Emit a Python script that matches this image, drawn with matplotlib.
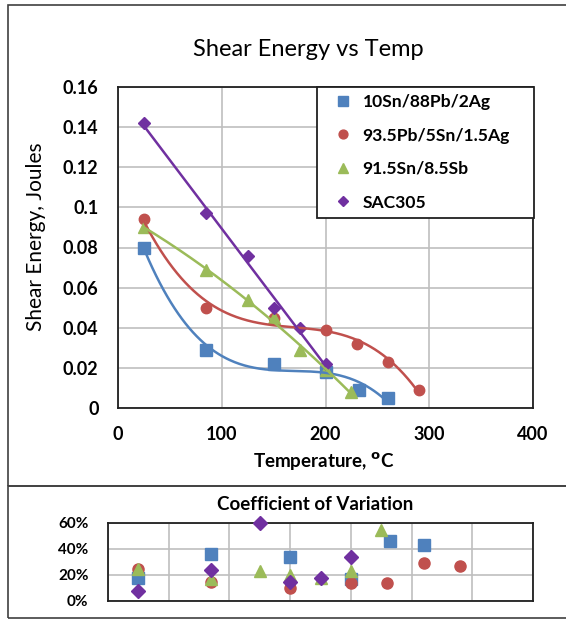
import numpy as np
import matplotlib
matplotlib.use("Agg")
import matplotlib.pyplot as plt
from matplotlib.patches import Rectangle
from matplotlib.ticker import PercentFormatter, MultipleLocator

plt.rcParams['font.family'] = ['Lato', 'DejaVu Sans']

# series names and colours
names = ['10Sn/88Pb/2Ag', '93.5Pb/5Sn/1.5Ag', '91.5Sn/8.5Sb', 'SAC305']
colors = ['#4F81BD', '#C0504D', '#9BBB59', '#7030A0']
markers = ['s', 'o', '^', 'D']
msizes = [8, 7.5, 8.5, 6.5]
fit_order = [3, 3, 2, 1]

# shear energy (J) vs temperature (C)
temp_a = [25, 85, 150, 200, 232, 260]
energy_a = [0.080, 0.029, 0.022, 0.018, 0.009, 0.005]
temp_b = [25, 85, 150, 200, 230, 260, 290]
energy_b = [0.094, 0.050, 0.045, 0.039, 0.032, 0.023, 0.009]
temp_c = [25, 85, 125, 150, 175, 200, 225]
energy_c = [0.090, 0.069, 0.054, 0.045, 0.029, 0.019, 0.008]
temp_d = [25, 85, 125, 150, 175, 200]
energy_d = [0.142, 0.097, 0.076, 0.050, 0.040, 0.022]

# coefficient of variation
cov_a = [0.18, 0.36, 0.34, 0.17, 0.46, 0.43]
cov_b = [0.25, 0.15, 0.10, 0.14, 0.14, 0.29, 0.27]
cov_c = [0.25, 0.17, 0.23, 0.20, 0.18, 0.23, 0.55]
cov_d = [0.08, 0.24, 0.60, 0.15, 0.18, 0.34]

temps = [temp_a, temp_b, temp_c, temp_d]
energies = [energy_a, energy_b, energy_c, energy_d]
covs = [cov_a, cov_b, cov_c, cov_d]

W, H = 566, 619
fig = plt.figure(figsize=(W / 100, H / 100), dpi=100)

def box(l, t, r, b):
    return [l / W, 1 - b / H, (r - l) / W, (b - t) / H]

# outer frame of the two chart objects
fig.patches.append(Rectangle((8 / W, 1 - 486 / H), 1, (486 - 5) / H, transform=fig.transFigure,
                             fill=False, ec='#404040', lw=1.2))
fig.patches.append(Rectangle((8 / W, 1 - 618 / H), 1, (618 - 486) / H, transform=fig.transFigure,
                             fill=False, ec='#404040', lw=1.2))

# main chart
ax = fig.add_axes(box(118, 87, 533, 408))
for x, y, c, m, ms, n, k in zip(temps, energies, colors, markers, msizes, names, fit_order):
    ax.plot(x, y, ls='none', marker=m, ms=ms, color=c, label=n, zorder=3)
    p = np.polyfit(x, y, k)
    xs = np.linspace(min(x), max(x), 200)
    ax.plot(xs, np.polyval(p, xs), color=c, lw=1.8, zorder=4)

ax.set_xlim(0, 400)
ax.set_ylim(0, 0.16)
ax.xaxis.set_major_locator(MultipleLocator(100))
ax.yaxis.set_major_locator(MultipleLocator(0.02))
ax.yaxis.set_major_formatter(plt.FuncFormatter(lambda v, _: '0' if v == 0 else f'{v:g}'))
ax.grid(True, color='#BFBFBF', lw=1.2)
ax.set_axisbelow(True)
ax.tick_params(length=0, labelsize=13)
ax.tick_params(axis='y', pad=14)
ax.tick_params(axis='x', pad=13)
for lab in ax.get_xticklabels() + ax.get_yticklabels():
    lab.set_fontweight('bold')
for s in ax.spines.values():
    s.set_color('#202020')
    s.set_linewidth(1.3)

fig.text(308 / W, 1 - 49 / H, 'Shear Energy vs Temp', ha='center', va='center', fontsize=17)
fig.text(324 / W, 1 - 462 / H, r'Temperature, $^{\mathbf{o}}$C', ha='center', va='center',
         fontsize=13.5, fontweight='bold')
fig.text(36 / W, 1 - 237 / H, 'Shear Energy, Joules', ha='center', va='center',
         fontsize=15, rotation=90)

# legend box drawn as its own frame, entries placed inside it
fig.patches.append(Rectangle((317 / W, 1 - 218 / H), (534 - 317) / W, (218 - 87) / H,
                             transform=fig.transFigure, fc='white', ec='#202020', lw=1.3, zorder=5))
leg = ax.legend(loc='upper left', bbox_to_anchor=(331 / W, 1 - 94 / H), bbox_transform=fig.transFigure,
                borderaxespad=0, borderpad=0, frameon=False,
                prop={'weight': 'bold', 'size': 12.6}, labelspacing=1.0, handlelength=1.4,
                handletextpad=0.4, markerscale=0.85)
leg.set_zorder(6)
leg.remove()
fig.add_artist(leg)

# coefficient of variation chart
ax2 = fig.add_axes(box(108, 523, 533, 601))
for x, y, c, m, ms in zip(temps, covs, colors, markers, msizes):
    ax2.plot(x, y, ls='none', marker=m, ms=ms + 0.5, color=c, zorder=3, clip_on=False)
ax2.set_xlim(0, 350)
ax2.set_ylim(0, 0.6)
ax2.xaxis.set_major_locator(MultipleLocator(50))
ax2.yaxis.set_major_locator(MultipleLocator(0.2))
ax2.yaxis.set_major_formatter(PercentFormatter(1.0, decimals=0))
ax2.set_xticklabels([])
ax2.grid(True, color='#BFBFBF', lw=1.2)
ax2.set_axisbelow(True)
ax2.tick_params(length=0, labelsize=11)
ax2.tick_params(axis='y', pad=14)
for lab in ax2.get_yticklabels():
    lab.set_fontweight('bold')
for s in ax2.spines.values():
    s.set_color('#202020')
    s.set_linewidth(1.3)

fig.text(315 / W, 1 - 505 / H, 'Coefficient of Variation', ha='center', va='center',
         fontsize=13.5, fontweight='bold')

fig.savefig('out.png', dpi=100)
